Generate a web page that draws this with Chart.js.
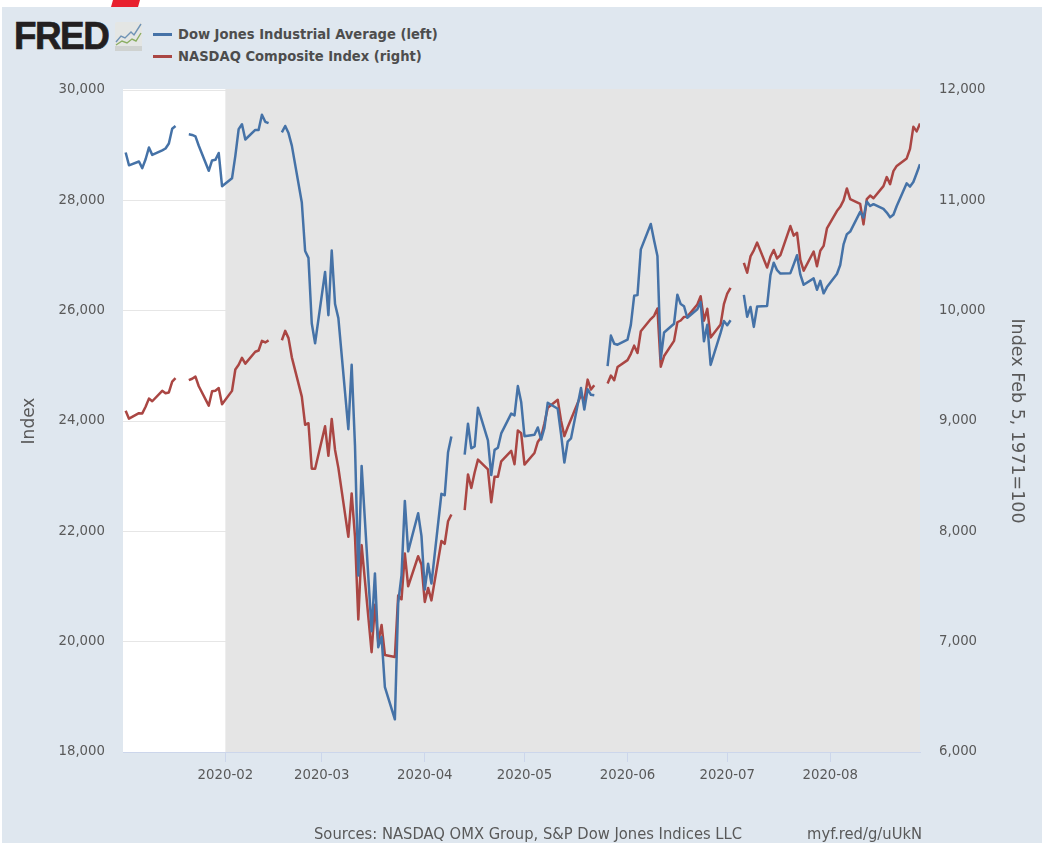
<!DOCTYPE html>
<html><head><meta charset="utf-8">
<script src="https://cdn.jsdelivr.net/npm/chart.js@4"></script>
<style>
html,body{margin:0;padding:0;background:#fff;width:1042px;height:843px;overflow:hidden}
#bg{position:absolute;left:2px;top:7px;width:1040px;height:836px;background:#dfe7ef}
#flag{position:absolute;left:111px;top:0;width:29px;height:7px;background:#e8202e;clip-path:polygon(2px 0,100% 0,27px 100%,0 100%)}
#fred{position:absolute;left:14px;top:14px;font:bold 39px/44px "Liberation Sans",sans-serif;letter-spacing:-1.6px;color:#231f20;-webkit-text-stroke:.7px #231f20;transform:scaleX(.945);transform-origin:0 0}
#icon{position:absolute;left:115px;top:22px}
.leg{position:absolute;left:178px;font:bold 14.6px/20px "DejaVu Sans",sans-serif;font-stretch:condensed;color:#4d4d4d;white-space:nowrap}
.sw{position:absolute;left:153px;width:19px;height:2.5px}
canvas{position:absolute;left:0;top:0}
</style></head><body>
<div id="bg"></div>
<div id="flag"></div>
<div id="fred">FRED</div>
<svg id="icon" width="27" height="29" viewBox="0 0 27 29"><rect width="27" height="29" rx="2" fill="#e4e6e4"/><rect y="24" width="27" height="5" fill="#cfd2d0"/><polyline points="1,20 6,14 10,16 16,10 19,13 26,2" fill="none" stroke="#6f93b5" stroke-width="1.4"/><polyline points="1,23 7,19 12,21 17,17 21,19 26,11" fill="none" stroke="#8bae63" stroke-width="1.4"/></svg>
<div class="sw" style="top:33px;background:#4572a7"></div>
<div class="leg" style="top:24px">Dow Jones Industrial Average (left)</div>
<div class="sw" style="top:55px;background:#aa4643"></div>
<div class="leg" style="top:46px">NASDAQ Composite Index (right)</div>
<canvas id="c" width="1042" height="843"></canvas>
<script>
const dates = [
'2020-01-02','2020-01-03','2020-01-06','2020-01-07','2020-01-08','2020-01-09','2020-01-10','2020-01-13','2020-01-14','2020-01-15','2020-01-16','2020-01-17','2020-01-20','2020-01-21','2020-01-22','2020-01-23','2020-01-24','2020-01-27','2020-01-28','2020-01-29','2020-01-30','2020-01-31',
'2020-02-03','2020-02-04','2020-02-05','2020-02-06','2020-02-07','2020-02-10','2020-02-11','2020-02-12','2020-02-13','2020-02-14','2020-02-17','2020-02-18','2020-02-19','2020-02-20','2020-02-21','2020-02-24','2020-02-25','2020-02-26','2020-02-27','2020-02-28',
'2020-03-02','2020-03-03','2020-03-04','2020-03-05','2020-03-06','2020-03-09','2020-03-10','2020-03-11','2020-03-12','2020-03-13','2020-03-16','2020-03-17','2020-03-18','2020-03-19','2020-03-20','2020-03-23','2020-03-24','2020-03-25','2020-03-26','2020-03-27','2020-03-30','2020-03-31',
'2020-04-01','2020-04-02','2020-04-03','2020-04-06','2020-04-07','2020-04-08','2020-04-09','2020-04-10','2020-04-13','2020-04-14','2020-04-15','2020-04-16','2020-04-17','2020-04-20','2020-04-21','2020-04-22','2020-04-23','2020-04-24','2020-04-27','2020-04-28','2020-04-29','2020-04-30',
'2020-05-01','2020-05-04','2020-05-05','2020-05-06','2020-05-07','2020-05-08','2020-05-11','2020-05-12','2020-05-13','2020-05-14','2020-05-15','2020-05-18','2020-05-19','2020-05-20','2020-05-21','2020-05-22','2020-05-25','2020-05-26','2020-05-27','2020-05-28','2020-05-29',
'2020-06-01','2020-06-02','2020-06-03','2020-06-04','2020-06-05','2020-06-08','2020-06-09','2020-06-10','2020-06-11','2020-06-12','2020-06-15','2020-06-16','2020-06-17','2020-06-18','2020-06-19','2020-06-22','2020-06-23','2020-06-24','2020-06-25','2020-06-26','2020-06-29','2020-06-30',
'2020-07-01','2020-07-02','2020-07-03','2020-07-06','2020-07-07','2020-07-08','2020-07-09','2020-07-10','2020-07-13','2020-07-14','2020-07-15','2020-07-16','2020-07-17','2020-07-20','2020-07-21','2020-07-22','2020-07-23','2020-07-24','2020-07-27','2020-07-28','2020-07-29','2020-07-30','2020-07-31',
'2020-08-03','2020-08-04','2020-08-05','2020-08-06','2020-08-07','2020-08-10','2020-08-11','2020-08-12','2020-08-13','2020-08-14','2020-08-17','2020-08-18','2020-08-19','2020-08-20','2020-08-21','2020-08-24','2020-08-25','2020-08-26','2020-08-27','2020-08-28'];
const dowJones = [
28868,28635,28704,28583,28745,28957,28824,28907,28940,29030,29298,29348,null,29196,29186,29160,28990,28536,28723,28734,28859,28256,
28399,28807,29290,29380,29103,29276,29276,29551,29423,29398,null,29232,29348,29219,28992,27961,27081,26957,25767,25409,
26703,25917,27091,26121,25865,23851,25018,23553,21200,23186,20189,21237,19899,20087,19174,18592,20705,21200,22552,21637,22327,21917,
20944,21413,21053,22680,22654,23434,23720,null,23390,23950,23504,23538,24242,23650,23019,23476,23516,23775,24134,24102,24634,24346,
23724,23750,23883,23664,23876,24331,24222,23764,23248,23625,23685,24597,24207,24576,24475,24465,null,24995,25548,25401,25383,
25475,25742,26270,26282,27111,27572,27272,26990,25128,25605,25763,26290,26120,26080,25871,26025,26156,25445,25745,25016,25596,25813,
25735,25827,null,26287,25890,26067,25706,26075,26086,26643,26870,26734,26672,26680,26840,27005,26652,26470,26585,26379,26540,26314,26428,
26664,26828,27202,27387,27433,27791,27687,27977,27897,27931,27844,27778,27692,27739,27897,28308,28249,28332,28492,28654];
const nasdaq = [
9093,9021,9071,9069,9129,9203,9179,9274,9251,9259,9357,9389,null,9370,9383,9402,9315,9139,9269,9275,9299,9151,
9273,9467,9509,9573,9520,9628,9639,9726,9712,9731,null,9732,9817,9751,9577,9221,8966,8980,8567,8567,
8952,8684,9019,8738,8575,7950,8344,7953,7201,7875,6905,7335,6990,7151,6880,6861,7418,7384,7798,7502,7774,7700,
7360,7487,7374,7913,7887,8091,8153,null,8193,8516,8393,8533,8650,8561,8263,8495,8494,8635,8730,8608,8914,8890,
8605,8710,8810,8854,8980,9121,9192,9002,8863,8943,9015,9235,9185,9375,9285,9325,null,9340,9412,9369,9490,
9552,9609,9683,9616,9814,9924,9953,10020,9492,9589,9726,9895,9911,9943,9946,10056,10131,9909,10017,9757,9874,10059,
10155,10207,null,10434,10344,10492,10547,10617,10391,10488,10550,10473,10503,10767,10680,10706,10461,10363,10536,10402,10543,10587,10745,
10903,10941,10999,11108,11011,10968,10782,11012,11043,11019,11129,11211,11147,11265,11312,11380,11466,11666,11625,11696];
const monthTicks = ['2020-02-01','2020-03-01','2020-04-01','2020-05-01','2020-06-01','2020-07-01','2020-08-01'];
const monthLabels = ['2020-02','2020-03','2020-04','2020-05','2020-06','2020-07','2020-08'];
const axisStart = '2020-01-01', axisEnd = '2020-08-28', recessionStart = '2020-02-01';
const leftTitle = 'Index', rightTitle = 'Index Feb 5, 1971=100';
const sourceText = 'Sources: NASDAQ OMX Group, S&P Dow Jones Indices LLC', linkText = 'myf.red/g/uUkN';

const day = s => Date.parse(s + 'T00:00:00Z') / 86400000;
const pts = vals => vals.map((v, i) => ({x: day(dates[i]), y: v}));
const FONT = '"DejaVu Sans", sans-serif', TXT = '#595959', AXIS = '#ccd6eb';

const frame = {
  id: 'frame',
  beforeDraw(ch) {
    const a = ch.chartArea, c = ch.ctx;
    c.save(); c.fillStyle = '#fff'; c.fillRect(a.left, a.top - 1, a.width, a.height + 1); c.restore();
  },
  beforeDatasetsDraw(ch) {
    const a = ch.chartArea, c = ch.ctx, x0 = ch.scales.x.getPixelForValue(day(recessionStart));
    c.save(); c.fillStyle = '#e5e5e5'; c.fillRect(x0, a.top - 1, a.right - x0, a.height + 1); c.restore();
  },
  afterDraw(ch) {
    const c = ch.ctx;
    c.save(); c.fillStyle = TXT; c.font = '16.4px ' + FONT; c.textBaseline = 'middle';
    c.fontStretch = 'condensed';
    c.textAlign = 'left'; c.fillText(sourceText, 314, 834.5);
    c.textAlign = 'right'; c.fillText(linkText, 922, 834.5);
    c.restore();
  }
};
const tickStyle = {color: TXT, font: {family: FONT, size: 13.3}};
const lineStyle = {borderWidth: 2.5, borderJoinStyle: 'round', pointRadius: 0, tension: 0, spanGaps: false};
new Chart(document.getElementById('c'), {
  type: 'line',
  plugins: [frame],
  data: {datasets: [
    {label: 'Dow Jones Industrial Average (left)', data: pts(dowJones), yAxisID: 'y', borderColor: '#4572a7', backgroundColor: '#4572a7', ...lineStyle},
    {label: 'NASDAQ Composite Index (right)', data: pts(nasdaq), yAxisID: 'y2', borderColor: '#aa4643', backgroundColor: '#aa4643', ...lineStyle}
  ]},
  options: {
    responsive: false, animation: false, parsing: {xAxisKey: 'x', yAxisKey: 'y'},
    layout: {padding: {top: 90, left: 0, right: 0, bottom: 0}},
    plugins: {legend: {display: false}, tooltip: {enabled: false}},
    scales: {
      x: {
        type: 'linear', min: day(axisStart) + 0.2, max: day(axisEnd),
        afterFit: s => { s.height = 91; },
        afterBuildTicks: s => { s.ticks = monthTicks.map(t => ({value: day(t)})); },
        border: {color: AXIS, width: 1},
        grid: {drawOnChartArea: false, drawTicks: true, tickColor: AXIS, tickLength: 10},
        ticks: {...tickStyle, padding: 6, autoSkip: false, maxRotation: 0,
          callback: v => monthLabels[monthTicks.findIndex(t => day(t) === v)]}
      },
      y: {
        position: 'left', min: 18000, max: 30000,
        afterFit: s => { s.width = 123; },
        border: {display: false},
        grid: {color: '#e6e6e6', lineWidth: 1, drawTicks: false},
        ticks: {...tickStyle, stepSize: 2000, padding: 18, callback: v => v.toLocaleString('en-US')},
        title: {display: true, text: leftTitle, color: TXT, font: {family: FONT, size: 17}, padding: {top: 19, bottom: 0}}
      },
      y2: {
        position: 'right', min: 6000, max: 12000,
        afterFit: s => { s.width = 122; },
        border: {display: false},
        grid: {display: false, drawTicks: false},
        ticks: {...tickStyle, stepSize: 1000, padding: 19, callback: v => v.toLocaleString('en-US')},
        title: {display: true, text: rightTitle, color: TXT, font: {family: FONT, size: 17.5}, padding: {top: 15, bottom: 0}}
      }
    }
  }
});
</script>
</body></html>
